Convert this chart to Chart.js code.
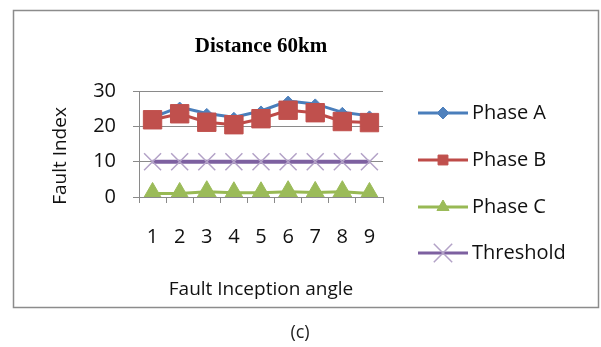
<!DOCTYPE html>
<html>
<head>
<meta charset="utf-8">
<script src="https://cdn.jsdelivr.net/npm/chart.js@4/dist/chart.umd.min.js"></script>
<style>
  html, body { margin: 0; padding: 0; background: #fff; }
  #wrap { position: relative; width: 601px; height: 347px; }
</style>
</head>
<body>
<div id="wrap"><canvas id="graph" width="601" height="347"></canvas></div>
<script>
// data
const angles = ["1", "2", "3", "4", "5", "6", "7", "8", "9"];
const phaseA = [22.6, 25.5, 23.7, 22.6, 24.4, 27.2, 26.4, 24, 23];
const phaseB = [21.9, 23.6, 21.2, 20.5, 22.2, 24.6, 23.9, 21.4, 21.1];
const phaseC = [1.0, 1.0, 1.5, 1.2, 1.2, 1.5, 1.3, 1.5, 1.0];
const threshold = [10, 10, 10, 10, 10, 10, 10, 10, 10];
const yTicks = [0, 10, 20, 30];

const txtFont = "'Open Sans', sans-serif";
const gridCol = "#8a8a8a";

// frame, rotated y title, Excel style legend and the "(c)" caption
const extrasPlugin = {
    id: "extras",
    beforeDraw(chart) {
        const ctx = chart.ctx;
        ctx.save();
        ctx.fillStyle = "#fff";
        ctx.fillRect(0, 0, chart.width, chart.height);
        ctx.strokeStyle = "#8c8c8c";
        ctx.lineWidth = 1.5;
        ctx.strokeRect(13.5, 10.5, 585, 297);
        ctx.restore();
    },
    afterDraw(chart) {
        const ctx = chart.ctx;
        const rows = [113, 160, 207, 253];
        const marks = [
            { style: "rectRot", radius: 6 },
            { style: "rect", radius: 7 },
            { style: "triangle", radius: 7 },
            { style: "crossRot", radius: 13 }
        ];
        ctx.save();
        // y axis title
        ctx.translate(61, 156);
        ctx.rotate(-Math.PI / 2);
        ctx.font = "19px " + txtFont;
        ctx.fillStyle = "#111";
        ctx.textAlign = "center";
        ctx.textBaseline = "middle";
        ctx.fillText("Fault Index", 0, 0);
        ctx.restore();

        ctx.save();
        chart.data.datasets.forEach((ds, i) => {
            const y = rows[i];
            ctx.strokeStyle = ds.borderColor;
            ctx.lineWidth = 3;
            ctx.beginPath();
            ctx.moveTo(418, y);
            ctx.lineTo(468, y);
            ctx.stroke();
            ctx.fillStyle = ds.pointBackgroundColor;
            ctx.strokeStyle = ds.pointBorderColor;
            ctx.lineWidth = ds.pointBorderWidth;
            Chart.helpers.drawPoint(ctx, {
                pointStyle: marks[i].style,
                radius: marks[i].radius,
                borderWidth: ds.pointBorderWidth,
                rotation: 0
            }, 443, y);
            ctx.fillStyle = "#111";
            ctx.font = "20px " + txtFont;
            ctx.textBaseline = "middle";
            ctx.textAlign = "left";
            ctx.fillText(ds.label, 472, y);
        });
        ctx.font = "18px " + txtFont;
        ctx.textAlign = "center";
        ctx.textBaseline = "middle";
        ctx.fillStyle = "#222";
        ctx.fillText("(c)", 300, 333);
        ctx.restore();
    }
};

new Chart("graph", {
    type: "line",
    data: {
        labels: angles,
        datasets: [{
            label: "Phase A",
            data: phaseA,
            borderColor: "#4a7ebb",
            borderWidth: 3,
            pointStyle: "rectRot",
            pointRadius: 5,
            pointBackgroundColor: "#4f81bd",
            pointBorderColor: "#4f81bd",
            pointBorderWidth: 1,
            order: 4
        }, {
            label: "Phase B",
            data: phaseB,
            borderColor: "#be4b48",
            borderWidth: 3,
            pointStyle: "rect",
            pointRadius: 13,
            pointBackgroundColor: "#c0504d",
            pointBorderColor: "#c0504d",
            pointBorderWidth: 1,
            order: 3
        }, {
            label: "Phase C",
            data: phaseC,
            borderColor: "#98b954",
            borderWidth: 3,
            pointStyle: "triangle",
            pointRadius: 11,
            pointBackgroundColor: "#9bbb59",
            pointBorderColor: "#9bbb59",
            pointBorderWidth: 1,
            order: 2
        }, {
            label: "Threshold",
            data: threshold,
            borderColor: "#7d60a0",
            borderWidth: 4,
            pointStyle: "crossRot",
            pointRadius: 12,
            pointBackgroundColor: "#b3a2c7",
            pointBorderColor: "#b3a2c7",
            pointBorderWidth: 1.5,
            order: 1
        }]
    },
    options: {
        responsive: false,
        animation: false,
        devicePixelRatio: 1,
        layout: { padding: { left: 50, right: 218, top: 0, bottom: 40 } },
        plugins: {
            legend: { display: false },
            tooltip: { enabled: false },
            title: {
                display: true,
                text: "Distance 60km",
                fullSize: false,
                color: "#000",
                font: { family: "'Liberation Serif', serif", size: 21, weight: "bold" },
                padding: { top: 34, bottom: 32 }
            }
        },
        scales: {
            y: {
                min: 0,
                max: 30,
                afterFit: s => { s.width = 89; },
                afterBuildTicks: s => { s.ticks = yTicks.map(v => ({ value: v })); },
                ticks: { color: "#111", padding: 17, font: { family: txtFont, size: 20 } },
                grid: { color: gridCol, lineWidth: 1, tickLength: 6 },
                border: { color: gridCol, width: 1 }
            },
            x: {
                offset: true,
                afterFit: s => { s.height = 110; },
                ticks: { color: "#111", padding: 22, maxRotation: 0, font: { family: txtFont, size: 20 } },
                grid: { offset: true, drawOnChartArea: false, color: gridCol, tickLength: 6 },
                border: { color: gridCol, width: 1 },
                title: {
                    display: true,
                    text: "Fault Inception angle",
                    color: "#111",
                    padding: { top: 0, bottom: 6 },
                    font: { family: txtFont, size: 19 }
                }
            }
        }
    },
    plugins: [extrasPlugin]
});
</script>
</body>
</html>
